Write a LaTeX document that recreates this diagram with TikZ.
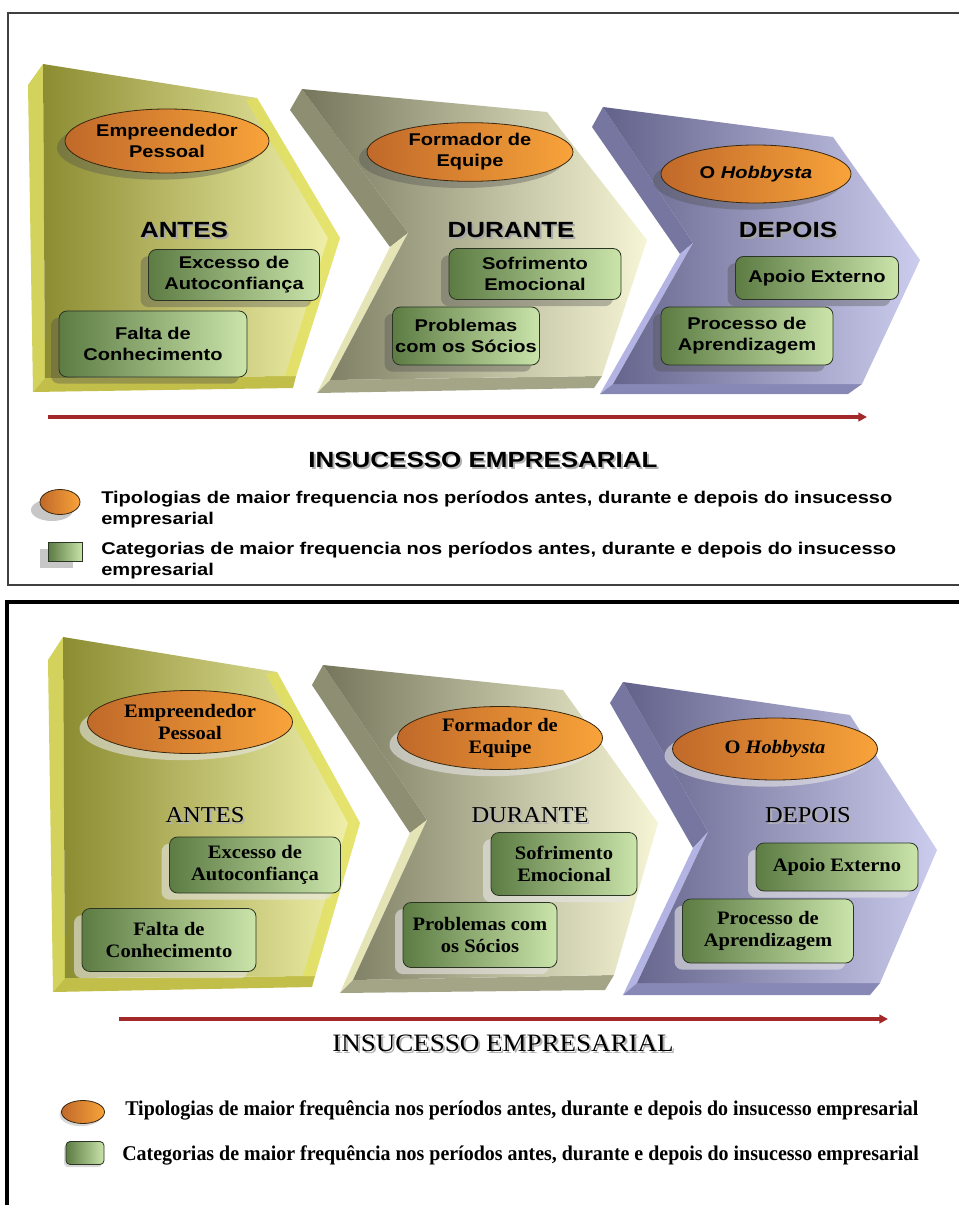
\documentclass[tikz,border=0pt]{standalone}
\usepackage{fontspec}
\usetikzlibrary{shapes.geometric,arrows.meta,shadows}
\newfontfamily\tsans[FakeStretch=1.18]{Liberation Sans}
\newfontfamily\tserif[FakeStretch=1.08]{Liberation Serif}
\newfontfamily\tserifleg[FakeStretch=0.95]{Liberation Serif}
\definecolor{orL}{HTML}{C0692A}
\definecolor{orR}{HTML}{F8A33A}
\definecolor{orD}{HTML}{3A2810}
\definecolor{grL}{HTML}{5C7C44}
\definecolor{grM}{HTML}{A6CE80}
\definecolor{grR}{HTML}{CAE4AA}
\definecolor{grD}{HTML}{2C3424}
\definecolor{arrowred}{HTML}{A3282A}
% yellow chevron
\definecolor{yL}{HTML}{8C8C32}
\definecolor{yM}{HTML}{CBCB66}
\definecolor{yR}{HTML}{F3F3AE}
\definecolor{ySide}{HTML}{D2D25C}
\definecolor{yBot}{HTML}{C2BE4A}
\definecolor{yEdge}{HTML}{E2E05A}
% khaki chevron
\definecolor{kL}{HTML}{76765C}
\definecolor{kM}{HTML}{BABA94}
\definecolor{kR}{HTML}{F6F6D6}
\definecolor{kUp}{HTML}{8E8E72}
\definecolor{kLo}{HTML}{E4E4B6}
\definecolor{kBot}{HTML}{A4A486}
% blue chevron
\definecolor{bL}{HTML}{62628A}
\definecolor{bM}{HTML}{9C9CC6}
\definecolor{bR}{HTML}{CCCCEE}
\definecolor{bUp}{HTML}{7676A0}
\definecolor{bLo}{HTML}{B4B4E4}
\definecolor{bBot}{HTML}{8888B6}
\begin{document}
\begin{tikzpicture}[x=0.75pt,y=-0.75pt,
  topfont/.style={font=\tsans\bfseries\fontsize{12.75}{15.75}\selectfont},
  botfont/.style={font=\tserif\bfseries\fontsize{14.25}{16.9}\selectfont},
  typo/.style={ellipse,draw=orD,line width=0.6pt,left color=orL,right color=orR,inner sep=0pt,align=center},
  categ/.style={rectangle,rounded corners=6pt,draw=grD,line width=0.6pt,left color=grL,middle color=grM,right color=grR,inner sep=0pt,align=center},
  topshadow/.style={drop shadow={shadow xshift=-6pt,shadow yshift=-5pt,fill=black!70,opacity=.35}},
  botshadow/.style={drop shadow={shadow xshift=-6pt,shadow yshift=-5pt,fill=white!80!gray,opacity=.6}},
  toptitle/.style={font=\tsans\bfseries\fontsize{16.5}{18}\selectfont},
  bottitle/.style={font=\tserif\fontsize{17}{19}\selectfont},
  redarrow/.style={draw=arrowred,line width=2.6pt,-{Triangle[length=6.5pt,width=6.5pt]}},
]
\useasboundingbox (0,0) rectangle (959,1205);
\fill[white] (0,0) rectangle (959,1205);

% ---------------- frames
\draw[draw=black!75,line width=1.2pt] (8,13) rectangle (980,585);
\draw[draw=black,line width=2.3pt] (7,602) rectangle (980,1225);

% ================= TOP PANEL =================
% chevron 1 (yellow)
\fill[ySide] (43,64) -- (28,85) -- (33,392) -- (45,378) -- cycle;
\fill[yBot] (45,378) -- (33,392) -- (293,388) -- (296,376) -- cycle;
\shade[left color=yL,middle color=yM,right color=yR] (43,64) -- (257,98) -- (340,238) -- (296,376) -- (45,378) -- cycle;
\fill[yEdge,opacity=.75] (257,98) -- (340,238) -- (296,376) -- (285,376) -- (328,238) -- (246,100) -- cycle;
% chevron 2 (khaki)
\fill[kUp] (302,89) -- (290,110) -- (390,247) -- (408,233) -- cycle;
\fill[kLo] (408,233) -- (390,247) -- (317,393) -- (330,380) -- cycle;
\fill[kBot] (330,380) -- (317,393) -- (594,388) -- (602,376) -- cycle;
\shade[left color=kL,middle color=kM,right color=kR] (302,89) -- (547,112) -- (647,240) -- (602,376) -- (330,380) -- (408,233) -- cycle;
% chevron 3 (blue)
\fill[bUp] (603,107) -- (592,127) -- (680,254) -- (693,243) -- cycle;
\fill[bLo] (693,243) -- (680,254) -- (600,394) -- (613,384) -- cycle;
\fill[bBot] (613,384) -- (600,394) -- (848,394) -- (862,384) -- cycle;
\shade[left color=bL,middle color=bM,right color=bR] (603,107) -- (833,137) -- (920,260) -- (862,384) -- (613,384) -- (693,243) -- cycle;

% typologies
\node[typo,topshadow,topfont,minimum width=153pt,minimum height=48pt] (te1) at (167,141) {Empreendedor\\Pessoal};
\node[typo,topshadow,topfont,minimum width=154.5pt,minimum height=44pt] (te2) at (470,152) {Formador de\\Equipe};
\node[typo,topshadow,topfont,minimum width=142.5pt,minimum height=43.5pt] (te3) at (756,174) {O \textit{Hobbysta}};

% titles
\node[toptitle,text=black!35] (tt1s) at (186,232) {ANTES};
\node[toptitle] (tt1) at (184,230) {ANTES};
\node[toptitle,text=black!35] (tt2s) at (513,232) {DURANTE};
\node[toptitle] (tt2) at (511,230) {DURANTE};
\node[toptitle,text=black!35] (tt3s) at (790,232) {DEPOIS};
\node[toptitle] (tt3) at (788,230) {DEPOIS};

% categories
\node[categ,topshadow,topfont,minimum width=128.25pt,minimum height=38.25pt] (tb1) at (234,275) {Excesso de\\Autoconfiança};
\node[categ,topshadow,topfont,minimum width=141pt,minimum height=49.5pt] (tb2) at (153,344) {Falta de\\Conhecimento};
\node[categ,topshadow,topfont,minimum width=129pt,minimum height=38.25pt] (tb3) at (535,274) {Sofrimento\\Emocional};
\node[categ,topshadow,topfont,minimum width=110.25pt,minimum height=43.5pt] (tb4) at (466,336) {Problemas\\com os Sócios};
\node[categ,topshadow,topfont,minimum width=122.25pt,minimum height=32.25pt] (tb5) at (817,278) {Apoio Externo};
\node[categ,topshadow,topfont,minimum width=129pt,minimum height=43.5pt] (tb6) at (747,336) {Processo de\\Aprendizagem};

% arrow
\coordinate (ta1) at (48,417);
\coordinate (ta2) at (867,417);
\draw[redarrow] (ta1) -- (ta2);
\node[toptitle,text=black!30] (tins) at (485,462) {INSUCESSO EMPRESARIAL};
\node[toptitle] (tin) at (483,460) {INSUCESSO EMPRESARIAL};

% legend
\node[ellipse,fill=black!22,minimum width=31.5pt,minimum height=16.5pt,inner sep=0pt] (tls1) at (52,510) {};
\node[ellipse,draw=orD,line width=0.6pt,left color=orL,right color=orR,minimum width=30pt,minimum height=18.75pt,inner sep=0pt] (tli1) at (60,502) {};
\node[rectangle,fill=black!22,minimum width=24.75pt,minimum height=14.25pt,inner sep=0pt] (tls2) at (56.5,558.5) {};
\node[rectangle,draw=grD,line width=0.6pt,left color=grL,middle color=grM,right color=grR,minimum width=25.5pt,minimum height=14.25pt,inner sep=0pt] (tli2) at (65.5,551.5) {};
\node[topfont,anchor=west,align=left,inner sep=0pt] (tlt1) at (101,509.5) {Tipologias de maior frequencia nos períodos antes, durante e depois do insucesso\\empresarial};
\node[topfont,anchor=west,align=left,inner sep=0pt] (tlt2) at (101,561) {Categorias de maior frequencia nos períodos antes, durante e depois do insucesso\\empresarial};

% ================= BOTTOM PANEL =================
% chevron 1
\fill[ySide] (63,637) -- (48,660) -- (53,992) -- (65,978) -- cycle;
\fill[yBot] (65,978) -- (53,992) -- (312,987) -- (315,976) -- cycle;
\shade[left color=yL,middle color=yM,right color=yR] (63,637) -- (277,672) -- (360,823) -- (315,976) -- (65,978) -- cycle;
\fill[yEdge,opacity=.75] (277,672) -- (360,823) -- (315,976) -- (303,976) -- (348,823) -- (266,674) -- cycle;
% chevron 2
\fill[kUp] (323,665) -- (312,685) -- (410,833) -- (427,820) -- cycle;
\fill[kLo] (427,820) -- (410,833) -- (340,993) -- (353,980) -- cycle;
\fill[kBot] (353,980) -- (340,993) -- (605,990) -- (614,975) -- cycle;
\shade[left color=kL,middle color=kM,right color=kR] (323,665) -- (563,690) -- (658,823) -- (614,975) -- (353,980) -- (427,820) -- cycle;
% chevron 3
\fill[bUp] (623,682) -- (610,703) -- (693,848) -- (708,832) -- cycle;
\fill[bLo] (708,832) -- (693,848) -- (623,995) -- (637,983) -- cycle;
\fill[bBot] (637,983) -- (623,995) -- (870,995) -- (880,983) -- cycle;
\shade[left color=bL,middle color=bM,right color=bR] (623,682) -- (850,715) -- (937,850) -- (880,983) -- (637,983) -- (708,832) -- cycle;

% typologies
\node[typo,botshadow,botfont,minimum width=153.75pt,minimum height=47.25pt] (be1) at (190,722) {Empreendedor\\Pessoal};
\node[typo,botshadow,botfont,minimum width=153.75pt,minimum height=47.25pt] (be2) at (500,738) {Formador de\\Equipe};
\node[typo,botshadow,botfont,minimum width=153.75pt,minimum height=46.5pt] (be3) at (775,749) {O \textit{Hobbysta}};

% titles
\node[bottitle,text=black!30] (bt1s) at (207,817) {ANTES};
\node[bottitle] (bt1) at (205,815) {ANTES};
\node[bottitle,text=black!30] (bt2s) at (532,817) {DURANTE};
\node[bottitle] (bt2) at (530,815) {DURANTE};
\node[bottitle,text=black!30] (bt3s) at (810,817) {DEPOIS};
\node[bottitle] (bt3) at (808,815) {DEPOIS};

% categories
\node[categ,botshadow,botfont,minimum width=128.25pt,minimum height=42pt] (bb1) at (255,865) {Excesso de\\Autoconfiança};
\node[categ,botshadow,botfont,minimum width=130.5pt,minimum height=47.25pt] (bb2) at (169,940) {Falta de\\Conhecimento};
\node[categ,botshadow,botfont,minimum width=109.5pt,minimum height=47.25pt] (bb3) at (564,864) {Sofrimento\\Emocional};
\node[categ,botshadow,botfont,minimum width=115.5pt,minimum height=48.75pt] (bb4) at (480,935) {Problemas com\\os Sócios};
\node[categ,botshadow,botfont,minimum width=121.5pt,minimum height=36pt] (bb5) at (837,867) {Apoio Externo};
\node[categ,botshadow,botfont,minimum width=128.25pt,minimum height=48pt] (bb6) at (768,931) {Processo de\\Aprendizagem};

% arrow
\coordinate (ba1) at (119,1019);
\coordinate (ba2) at (888,1019);
\draw[redarrow] (ba1) -- (ba2);
\node[font=\tserif\fontsize{18.75}{20}\selectfont,text=black!30] (bins) at (505,1045) {INSUCESSO EMPRESARIAL};
\node[font=\tserif\fontsize{18.75}{20}\selectfont] (bin) at (503,1043) {INSUCESSO EMPRESARIAL};

% legend
\node[ellipse,draw=orD,line width=0.6pt,left color=orL,right color=orR,minimum width=32.25pt,minimum height=17.25pt,inner sep=0pt,drop shadow={shadow xshift=-1.5pt,shadow yshift=-2pt,fill=black!50,opacity=.3}] (bli1) at (83,1112) {};
\node[rectangle,rounded corners=3pt,draw=grD,line width=0.6pt,left color=grL,middle color=grM,right color=grR,minimum width=28.5pt,minimum height=17.25pt,inner sep=0pt,drop shadow={shadow xshift=-1.5pt,shadow yshift=-2pt,fill=black!50,opacity=.3}] (bli2) at (85,1153) {};
\node[font=\tserifleg\bfseries\fontsize{15.75}{17}\selectfont,anchor=west,inner sep=0pt] (blt1) at (125,1110) {Tipologias de maior frequência nos períodos antes, durante e depois do insucesso empresarial};
\node[font=\tserifleg\bfseries\fontsize{15.75}{17}\selectfont,anchor=west,inner sep=0pt] (blt2) at (122,1155) {Categorias de maior frequência nos períodos antes, durante e depois do insucesso empresarial};
\end{tikzpicture}
\end{document}
